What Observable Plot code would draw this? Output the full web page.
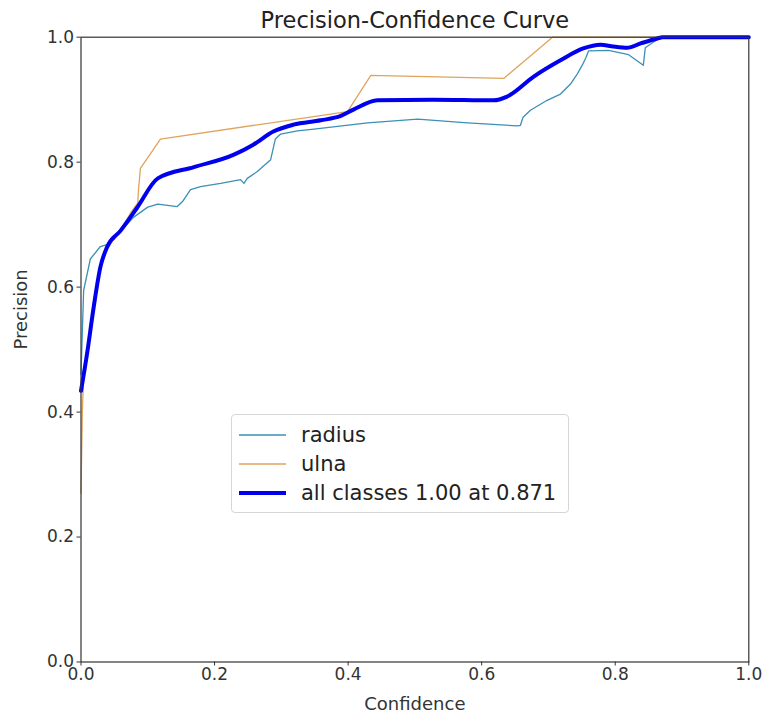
<!DOCTYPE html>
<html>
<head>
<meta charset="utf-8">
<script src="https://cdn.jsdelivr.net/npm/d3@7"></script>
<script src="https://cdn.jsdelivr.net/npm/@observablehq/plot@0.6"></script>
<style>
  html, body { margin: 0; padding: 0; background: #fff; }
  #wrap { position: relative; width: 763px; height: 715px; font-family: "DejaVu Sans", sans-serif; }
  #legend { position: absolute; left: 231px; top: 414px; width: 338px; height: 99px; box-sizing: border-box;
            background: rgba(255,255,255,0.85); border: 1px solid #d6d6d6; border-radius: 4px; }
  .row { position: absolute; left: 0; height: 28px; display: flex; align-items: center; }
  .row span { font-size: 21px; color: #222; margin-left: 15px; white-space: nowrap; }
</style>
</head>
<body>
<div id="wrap"></div>
<script>
// ---- data ----
const radiusConf = [0, 0.002, 0.004, 0.014, 0.029, 0.039, 0.05, 0.065, 0.079, 0.1, 0.115, 0.144, 0.152, 0.164, 0.179, 0.209, 0.239, 0.244, 0.249, 0.264, 0.284, 0.291, 0.299, 0.324, 0.349, 0.429, 0.504, 0.579, 0.654, 0.658, 0.662, 0.673, 0.698, 0.718, 0.733, 0.743, 0.751, 0.756, 0.76, 0.79, 0.82, 0.842, 0.845, 0.865, 0.875, 1.0];
const radiusPrec = [0.46, 0.53, 0.595, 0.645, 0.665, 0.668, 0.68, 0.696, 0.712, 0.728, 0.733, 0.729, 0.737, 0.756, 0.761, 0.766, 0.772, 0.766, 0.774, 0.785, 0.804, 0.837, 0.845, 0.85, 0.853, 0.863, 0.869, 0.863, 0.858, 0.859, 0.872, 0.883, 0.899, 0.909, 0.925, 0.941, 0.956, 0.967, 0.978, 0.979, 0.972, 0.955, 0.983, 0.998, 1.0, 1.0];

const ulnaConf = [0, 0.002, 0.004, 0.009, 0.019, 0.029, 0.039, 0.059, 0.075, 0.085, 0.086, 0.089, 0.119, 0.399, 0.434, 0.633, 0.706, 1.0];
const ulnaPrec = [0.27, 0.40, 0.46, 0.49, 0.565, 0.63, 0.662, 0.69, 0.72, 0.735, 0.755, 0.79, 0.837, 0.881, 0.939, 0.934, 1.0, 1.0];

const allConf = [0, 0.009, 0.019, 0.029, 0.039, 0.059, 0.084, 0.115, 0.169, 0.229, 0.258, 0.288, 0.318, 0.359, 0.389, 0.408, 0.444, 0.528, 0.618, 0.638, 0.678, 0.718, 0.752, 0.778, 0.797, 0.818, 0.838, 0.863, 0.871, 1.0];
const allPrec = [0.434, 0.493, 0.568, 0.632, 0.664, 0.69, 0.727, 0.774, 0.792, 0.812, 0.828, 0.849, 0.86, 0.867, 0.874, 0.884, 0.899, 0.9, 0.899, 0.905, 0.937, 0.963, 0.982, 0.988, 0.985, 0.983, 0.99, 0.998, 1.0, 1.0];

const xTicks = [0, 0.2, 0.4, 0.6, 0.8, 1.0];
const yTicks = [0, 0.2, 0.4, 0.6, 0.8, 1.0];
const seriesNames = ["radius", "ulna", "all classes 1.00 at 0.871"];
const seriesColors = ["#3d8fb5", "#dfa55c", "#0000ee"];
const seriesWidths = [1.3, 1.3, 4];
const titleText = "Precision-Confidence Curve";
const xLabel = "Confidence";
const yLabel = "Precision";

const toRows = (xs, ys, name) => xs.map((x, i) => ({ x, y: ys[i], name }));
const radius = toRows(radiusConf, radiusPrec, seriesNames[0]);
const ulna = toRows(ulnaConf, ulnaPrec, seriesNames[1]);
const all = toRows(allConf, allPrec, seriesNames[2]);

const chart = Plot.plot({
  width: 763,
  height: 715,
  marginLeft: 80.5,
  marginRight: 14.7,
  marginTop: 36.7,
  marginBottom: 53.5,
  style: { fontFamily: "DejaVu Sans, sans-serif", fontSize: "17px", color: "#333", background: "#fff" },
  x: { domain: [0, 1] },
  y: { domain: [0, 1] },
  marks: [
    Plot.axisX({ ticks: xTicks, tickFormat: d3.format(".1f"), tickSize: 4, tickPadding: 2, fontSize: 17, label: null }),
    Plot.axisY({ ticks: yTicks, tickFormat: d3.format(".1f"), tickSize: 4, tickPadding: 3, fontSize: 17, label: null }),
    Plot.line(radius, { x: "x", y: "y", stroke: seriesColors[0], strokeWidth: seriesWidths[0] }),
    Plot.line(ulna, { x: "x", y: "y", stroke: seriesColors[1], strokeWidth: seriesWidths[1] }),
    Plot.line(all, { x: "x", y: "y", stroke: seriesColors[2], strokeWidth: seriesWidths[2], curve: "monotone-x" }),
    Plot.frame({ stroke: "#333", strokeWidth: 1.2 }),
    Plot.text([titleText], { frameAnchor: "top", dy: -16, fontSize: 22.5, fill: "#222", lineAnchor: "middle" }),
    Plot.text([xLabel], { frameAnchor: "bottom", dy: 42, fontSize: 18, fill: "#333", lineAnchor: "middle" }),
    Plot.text([yLabel], { frameAnchor: "left", dx: -60, rotate: -90, fontSize: 18, fill: "#333", lineAnchor: "middle" })
  ]
});
const wrap = document.getElementById("wrap");
wrap.appendChild(chart);

// legend (HTML overlay, matplotlib style)
const legend = document.createElement("div");
legend.id = "legend";
seriesNames.forEach((name, i) => {
  const row = document.createElement("div");
  row.className = "row";
  row.style.top = (6 + i * 29) + "px";
  const svgNS = "http://www.w3.org/2000/svg";
  const s = document.createElementNS(svgNS, "svg");
  s.setAttribute("width", 47); s.setAttribute("height", 10);
  s.style.marginLeft = "7px";
  const l = document.createElementNS(svgNS, "line");
  l.setAttribute("x1", 0); l.setAttribute("x2", 47); l.setAttribute("y1", 5); l.setAttribute("y2", 5);
  l.setAttribute("stroke", seriesColors[i]); l.setAttribute("stroke-width", seriesWidths[i]);
  s.appendChild(l);
  row.appendChild(s);
  const t = document.createElement("span");
  t.textContent = name;
  row.appendChild(t);
  legend.appendChild(row);
});
wrap.appendChild(legend);
</script>
</body>
</html>
